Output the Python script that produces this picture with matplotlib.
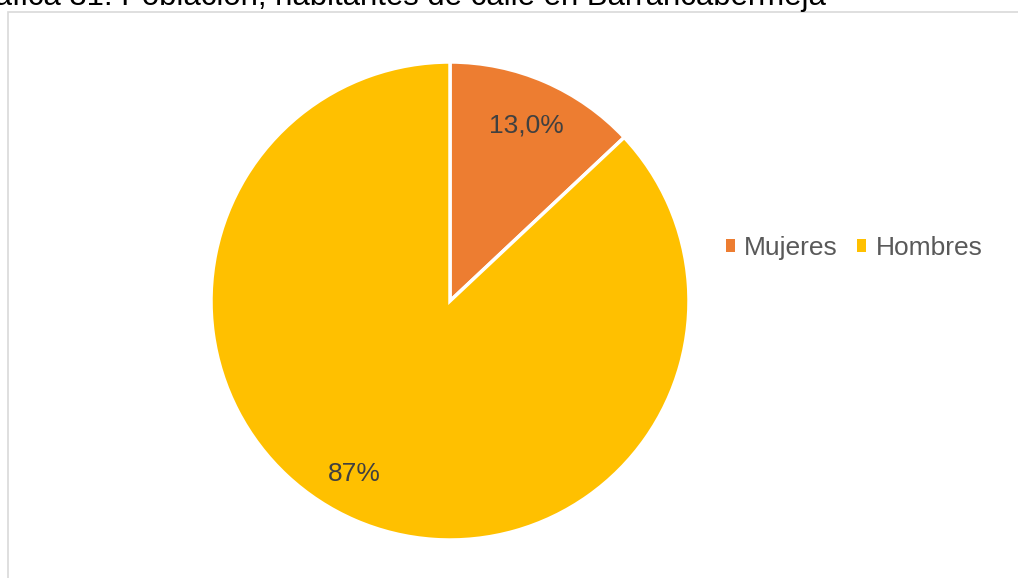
import matplotlib.pyplot as plt
import numpy as np
from matplotlib.patches import Rectangle, Patch

# data
categories = ["Mujeres", "Hombres"]
values = [13.0, 87.0]
value_labels = ["13,0%", "87%"]
colors = ["#ED7D31", "#FFC000"]
title = "Gráfica 31. Población, habitantes de calle en Barrancabermeja"

W, H = 1018, 578
plt.rcParams['font.family'] = ['Liberation Sans', 'DejaVu Sans']

fig = plt.figure(figsize=(W / 100, H / 100), dpi=100)
ax = fig.add_axes([0, 0, 1, 1])

# pie in pixel coordinates (y up)
cx, cy, r = 450, H - 301, 239
wedges, _ = ax.pie(values, colors=colors, startangle=90, counterclock=False,
                   center=(cx, cy), radius=r,
                   wedgeprops=dict(edgecolor="white", linewidth=2.5))
ax.set_xlim(0, W)
ax.set_ylim(0, H)
ax.set_aspect('equal')
ax.axis('off')

# data labels inside the wedges (Excel "best fit" positions)
label_dist = [0.80, 0.825]
label_shift = [0.0, -5.5]  # degrees
for w, lab, d, s in zip(wedges, value_labels, label_dist, label_shift):
    theta = np.deg2rad((w.theta1 + w.theta2) / 2 + s)
    ax.text(cx + d * r * np.cos(theta), cy + d * r * np.sin(theta), lab,
            ha='center', va='center', fontsize=19, color="#404040")

# chart border (left and top edges visible)
fig.patches.append(Rectangle((7.5 / W, -0.1), 1.2, (H - 11.5) / H + 0.1,
                             transform=fig.transFigure, fill=False,
                             edgecolor="#D9D9D9", linewidth=1.2))

# title, cropped at the top of the image
fig.text(826 / W, 1 - 5 / H, title, ha='right', va='baseline',
         fontsize=22.4, color="black")

handles = [Patch(facecolor=c, edgecolor='none') for c in colors]
fig.legend(handles, categories, loc='center left', bbox_to_anchor=(726 / W, 1 - 248 / H),
           ncol=2, frameon=False, fontsize=19, labelcolor="#595959",
           handlelength=0.34, handleheight=0.34, handletextpad=0.34,
           columnspacing=0.75, borderaxespad=0, borderpad=0)

plt.savefig("out.png", dpi=100)
